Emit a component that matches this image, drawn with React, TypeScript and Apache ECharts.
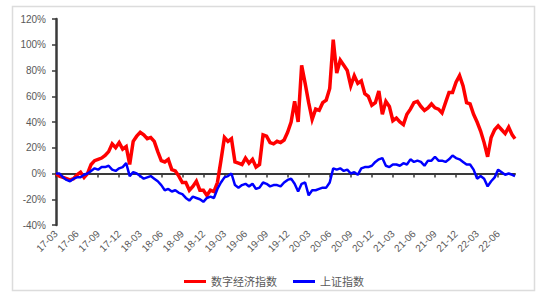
import { useEffect, useRef } from "react";
import * as echarts from "echarts";

// Sampling grid: months elapsed since 2017-03 (half-month steps), last point mid Aug 2022
const START_YEAR = 2017;
const START_MONTH = 3;
const STEP = 0.5;
const LAST_OFFSET = 65.4;

const seriesNames = ["数字经济指数", "上证指数"];

// 数字经济指数 cumulative return (%)
const digitalEconomy = [
  0, -2, -3, -4, -5, -4, -1, 1, -3, 0,
  7, 10, 11, 12, 14, 17, 23, 20, 24, 19,
  21, 7, 25, 29, 32, 30, 27, 28, 25, 17,
  10, 9, 11, 3, 2, -2, -7, -7, -13, -10,
  -6, -13, -13, -17, -13, -14, -7, 10, 28, 25,
  27, 9, 8, 7, 12, 8, 11, 5, 7, 30,
  29, 24, 23, 25, 24, 26, 32, 40, 56, 40,
  84, 70, 55, 42, 50, 49, 55, 57, 66, 104,
  78, 88, 84, 80, 68, 76, 70, 72, 62, 60,
  53, 55, 64, 46, 56, 52, 41, 43, 40, 38,
  46, 50, 55, 56, 52, 49, 51, 54, 51, 50,
  47, 55, 63, 63, 71, 76, 68, 55, 54, 46,
  40, 33, 24, 13, 28, 34, 37, 34, 31, 36,
  30, 27,
];

// 上证指数 cumulative return (%)
const shanghaiComposite = [
  0, 0, -3, -5, -6, -4, -3, -3, -1, 0,
  2, 4, 3, 5, 5, 6, 3, 2, 4, 5,
  8, -2, 1, 0, -2, -4, -3, -2, -4, -6,
  -9, -13, -12, -14, -13, -15, -16, -19, -21, -18,
  -19, -20, -22, -19, -18, -19, -12, -7, -3, -2,
  0, -9, -11, -9, -8, -10, -8, -12, -11, -7,
  -8, -10, -9, -9, -10, -7, -5, -4, -8, -14,
  -8, -7, -17, -13, -13, -12, -11, -11, -7, 4,
  3, 4, 2, 3, 0, 1, -1, 4, 5, 5,
  6, 9, 11, 12, 6, 5, 7, 7, 6, 8,
  7, 11, 9, 10, 9, 6, 10, 10, 13, 10,
  10, 9, 11, 14, 12, 11, 9, 7, 7, 3,
  -4, -2, -4, -10, -6, -3, 3, 1, -1, 0,
  -1, -2,
];

// Quarterly tick labels 17-03 ... 22-06
const tickMonths = Array.from({ length: 22 }, (_, i) => i * 3);

const yTicks = { min: -40, max: 120, interval: 20 };

function offsetOf(i: number, n: number) {
  return i === n - 1 ? LAST_OFFSET : i * STEP;
}

function monthLabel(m: number) {
  const total = START_MONTH - 1 + Math.round(m);
  const yy = (START_YEAR + Math.floor(total / 12)) % 100;
  const mm = (total % 12) + 1;
  return `${String(yy).padStart(2, "0")}-${String(mm).padStart(2, "0")}`;
}

const FONT = "'Liberation Sans', Arial, 'Noto Sans CJK SC', sans-serif";

export default function App() {
  const ref = useRef<HTMLDivElement>(null);
  useEffect(() => {
    if (!ref.current) return;
    const chart = echarts.init(ref.current, undefined, { renderer: "svg" });
    const toPairs = (arr: number[]) => arr.map((v, i) => [offsetOf(i, arr.length), v]);
    chart.setOption({
      animation: false,
      backgroundColor: "#ffffff",
      textStyle: { fontFamily: FONT },
      graphic: [
        {
          type: "rect",
          shape: { x: 12.5, y: 6.5, width: 522, height: 284 },
          style: { fill: "none", stroke: "#dcdcdc", lineWidth: 1.5 },
          silent: true,
        },
      ],
      grid: { left: 56, right: 33, top: 19, bottom: 74 },
      xAxis: {
        type: "value",
        min: 0,
        max: LAST_OFFSET,
        interval: 3,
        axisLine: { lineStyle: { color: "#3a3a3a", width: 2 } },
        axisTick: {
          show: true,
          length: 4,
          customValues: tickMonths,
          lineStyle: { color: "#3a3a3a", width: 1.5 },
        },
        axisLabel: {
          customValues: tickMonths,
          rotate: 45,
          margin: 7,
          fontSize: 10,
          color: "#595959",
          fontFamily: FONT,
          formatter: (v: number) => monthLabel(v),
        },
        splitLine: { show: false },
      },
      yAxis: {
        type: "value",
        min: yTicks.min,
        max: yTicks.max,
        interval: yTicks.interval,
        axisLine: { show: true, lineStyle: { color: "#3a3a3a", width: 2.5 } },
        axisTick: { show: true, length: 4, lineStyle: { color: "#3a3a3a", width: 1.5 } },
        axisLabel: {
          margin: 10,
          fontSize: 10,
          color: "#595959",
          fontFamily: FONT,
          formatter: "{value}%",
        },
        splitLine: { show: false },
      },
      legend: {
        top: 271,
        left: "center",
        icon: "rect",
        itemWidth: 22,
        itemHeight: 3,
        itemGap: 16,
        textStyle: { fontSize: 11, color: "#595959", fontFamily: FONT },
        data: seriesNames,
      },
      series: [
        {
          name: seriesNames[0],
          type: "line",
          data: toPairs(digitalEconomy),
          symbol: "none",
          lineStyle: { color: "#ff0000", width: 3.5, join: "miter" },
          itemStyle: { color: "#ff0000" },
          z: 2,
        },
        {
          name: seriesNames[1],
          type: "line",
          data: toPairs(shanghaiComposite),
          symbol: "none",
          lineStyle: { color: "#0000ff", width: 2.5 },
          itemStyle: { color: "#0000ff" },
          z: 3,
        },
      ],
    });
    return () => chart.dispose();
  }, []);
  return (
    <div
      ref={ref}
      style={{ position: "fixed", left: 0, top: 0, width: 548, height: 299, background: "#fff" }}
    />
  );
}
